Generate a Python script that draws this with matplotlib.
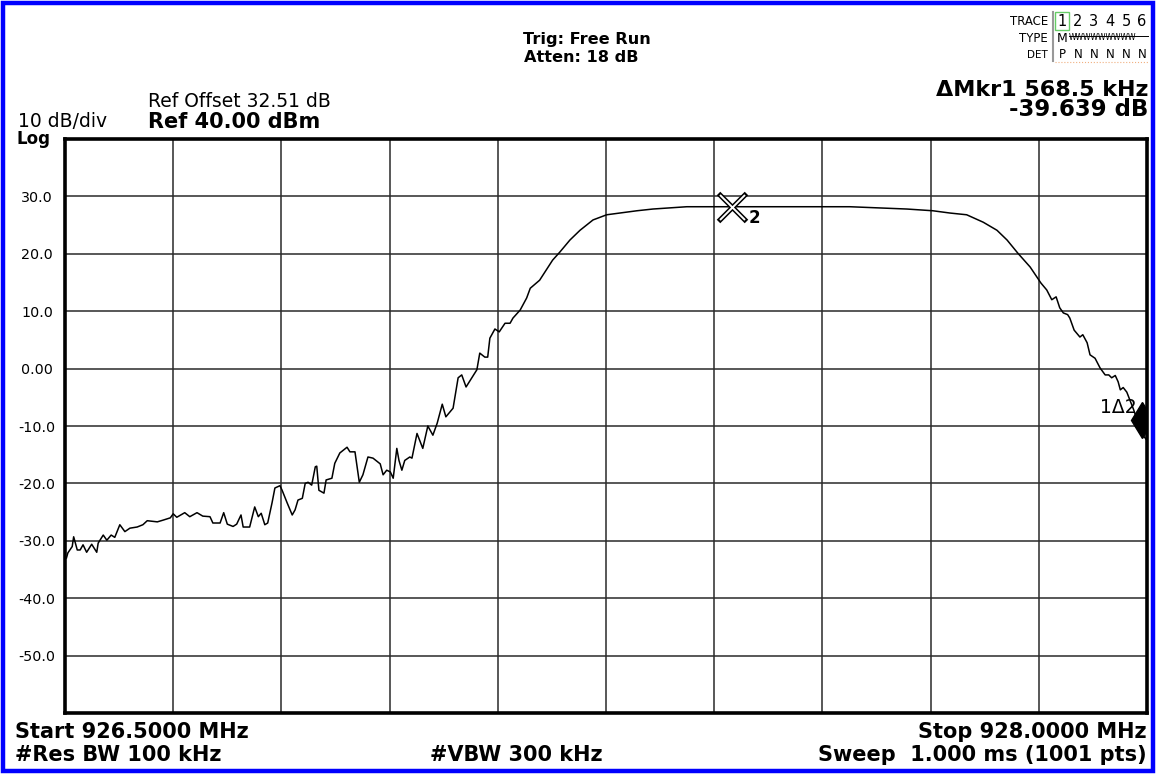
import numpy as np
import matplotlib.pyplot as plt
from matplotlib.patches import Rectangle
from matplotlib.lines import Line2D

# trace (MHz, dBm)
freq_mhz = [
    926.502, 926.504, 926.510, 926.512, 926.517, 926.521, 926.525, 926.530, 926.537, 926.544,
    926.546, 926.553, 926.558, 926.564, 926.569, 926.576, 926.583, 926.590, 926.600, 926.608,
    926.614, 926.628, 926.636, 926.646, 926.650, 926.655, 926.666, 926.673, 926.683, 926.691,
    926.701, 926.705, 926.715, 926.720, 926.725, 926.733, 926.738, 926.744, 926.747, 926.756,
    926.763, 926.768, 926.772, 926.777, 926.781, 926.787, 926.791, 926.798, 926.801, 926.808,
    926.815, 926.819, 926.823, 926.829, 926.833, 926.837, 926.842, 926.847, 926.849, 926.852,
    926.859, 926.862, 926.870, 926.874, 926.881, 926.891, 926.895, 926.902, 926.908, 926.913,
    926.920, 926.927, 926.937, 926.941, 926.946, 926.951, 926.955, 926.960, 926.963, 926.967,
    926.971, 926.978, 926.981, 926.988, 926.996, 927.003, 927.010, 927.016, 927.023, 927.028,
    927.038, 927.045, 927.050, 927.056, 927.064, 927.071, 927.075, 927.082, 927.086, 927.089,
    927.096, 927.102, 927.110, 927.117, 927.121, 927.131, 927.140, 927.145, 927.158, 927.176,
    927.186, 927.200, 927.214, 927.232, 927.251, 927.269, 927.293, 927.315, 927.362, 927.425,
    927.588, 927.626, 927.667, 927.703, 927.727, 927.750, 927.773, 927.792, 927.806, 927.821,
    927.838, 927.853, 927.861, 927.868, 927.874, 927.879, 927.884, 927.890, 927.893, 927.899,
    927.907, 927.911, 927.917, 927.921, 927.928, 927.935, 927.942, 927.947, 927.951, 927.956,
    927.960, 927.963, 927.967, 927.972, 927.981, 927.988, 927.993, 928.000,
]
level_dbm = [
    -33.0, -32.1, -31.0, -29.3, -31.6, -31.6, -30.7, -32.0, -30.6, -32.0,
    -30.4, -29.0, -29.9, -29.0, -29.4, -27.2, -28.4, -27.8, -27.6, -27.2,
    -26.5, -26.7, -26.4, -26.0, -25.3, -25.9, -25.1, -25.8, -25.1, -25.7,
    -25.8, -26.9, -26.9, -25.1, -27.1, -27.5, -27.1, -25.5, -27.6, -27.6,
    -24.1, -25.8, -25.2, -27.2, -26.9, -23.4, -20.8, -20.4, -21.2, -23.4,
    -25.5, -24.6, -22.9, -22.6, -20.0, -19.8, -20.3, -17.1, -17.0, -21.2,
    -21.7, -19.4, -19.1, -16.5, -14.7, -13.7, -14.5, -14.5, -19.8, -18.5,
    -15.4, -15.6, -16.6, -18.5, -17.7, -18.0, -19.1, -13.9, -16.0, -17.7,
    -16.0, -15.4, -15.6, -11.3, -13.9, -10.0, -11.6, -9.5, -6.2, -8.4,
    -6.9, -1.6, -1.1, -3.2, -1.6, -0.2, 2.7, 2.0, 2.0, 5.3,
    6.9, 6.4, 7.9, 7.9, 8.8, 10.2, 12.3, 14.0, 15.4, 18.9,
    20.3, 22.4, 24.1, 25.9, 26.8, 27.1, 27.5, 27.8, 28.2, 28.2,
    28.2, 28.0, 27.8, 27.5, 27.1, 26.8, 25.5, 24.1, 22.4, 20.1,
    17.7, 14.9, 13.7, 12.0, 12.5, 10.6, 9.7, 9.4, 8.8, 6.7,
    5.5, 5.9, 4.5, 2.4, 1.8, 0.1, -1.1, -1.1, -1.6, -1.2,
    -2.3, -3.7, -3.3, -4.1, -7.0, -9.5, -11.4, -12.5,
]

start_mhz, stop_mhz = 926.5, 928.0
ref_level, db_per_div = 40.0, 10.0
ytick_labels = ["30.0", "20.0", "10.0", "0.00", "-10.0", "-20.0", "-30.0", "-40.0", "-50.0"]

mkr2_freq, mkr2_level = 927.425, 28.2
mkr1_delta_mhz = 0.5685
mkr1_level = -9.0

trace_nums = ["1", "2", "3", "4", "5", "6"]
trace_det = ["P", "N", "N", "N", "N", "N"]

W, H = 1156, 774
FONT = "DejaVu Sans"
plt.rcParams["font.family"] = FONT


def fx(x):
    return x / W


def fy(y):
    return 1 - y / H


fig = plt.figure(figsize=(W / 100, H / 100), dpi=100)
fig.patch.set_facecolor("white")

# blue screen border
fig.patches.append(Rectangle((fx(3), fy(771)), fx(1150), 768 / H, transform=fig.transFigure,
                             fill=False, edgecolor="#0000ff", linewidth=3.2))

ax = fig.add_axes([fx(65), fy(713), fx(1082), 574 / H])
ax.plot(freq_mhz, level_dbm, color="black", linewidth=1.1)

ax.set_xlim(start_mhz, stop_mhz)
ax.set_ylim(ref_level - 10 * db_per_div, ref_level)
ax.set_xticks(np.linspace(start_mhz, stop_mhz, 11))
ax.set_xticklabels([])
ax.set_yticks(np.arange(-60, 41, 10))
ax.set_yticklabels([""] + ytick_labels[::-1] + [""], fontsize=10.3)
for lab in ax.get_yticklabels():
    lab.set_horizontalalignment("center")
ax.tick_params(length=0, pad=20)
ax.grid(True, color="#2a2a2a", linewidth=1.1)
for s in ax.spines.values():
    s.set_linewidth(2.6)

# marker 2: outlined X
ax.plot([mkr2_freq], [mkr2_level], marker="x", markersize=20, mew=3.6, color="black", zorder=5)
ax.plot([mkr2_freq], [mkr2_level], marker="x", markersize=18, mew=1.4, color="white", zorder=6)
ax.annotate("2", (mkr2_freq, mkr2_level), xytext=(12, -8), textcoords="offset points",
            fontsize=12, fontweight="bold", va="center", ha="left")

# marker 1 (delta) diamond at the right edge
mkr1_freq = mkr2_freq + mkr1_delta_mhz
ax.plot([mkr1_freq], [mkr1_level], marker="d", markersize=18.5, color="black", zorder=6)
ax.annotate("1\u03942", (mkr1_freq, mkr1_level), xytext=(-4, 5), textcoords="offset points",
            fontsize=13.5, va="baseline", ha="right")

# header texts
fig.text(fx(148), fy(107), "Ref Offset 32.51 dB", fontsize=13.5, va="baseline")
fig.text(fx(148), fy(128), "Ref 40.00 dBm", fontsize=15, fontweight="bold", va="baseline")
fig.text(fx(18), fy(127), "10 dB/div", fontsize=13.5, va="baseline")
fig.text(fx(17), fy(144), "Log", fontsize=12, fontweight="bold", va="baseline")
fig.text(fx(587), fy(44), "Trig: Free Run", fontsize=11.6, fontweight="bold",
         va="baseline", ha="center")
fig.text(fx(581), fy(62), "Atten: 18 dB", fontsize=11.6, fontweight="bold",
         va="baseline", ha="center")
fig.text(fx(1148), fy(96), "\u0394Mkr1 568.5 kHz", fontsize=16, fontweight="bold",
         va="baseline", ha="right")
fig.text(fx(1148), fy(116), "-39.639 dB", fontsize=16.5, fontweight="bold",
         va="baseline", ha="right")

# trace table
fig.text(fx(1048), fy(25), "TRACE", fontsize=8.5, va="baseline", ha="right")
fig.text(fx(1048), fy(42), "TYPE", fontsize=8.5, va="baseline", ha="right")
fig.text(fx(1048), fy(58), "DET", fontsize=7.5, va="baseline", ha="right")
for i, (num, det) in enumerate(zip(trace_nums, trace_det)):
    fig.text(fx(1062 + 16 * i), fy(26), num, fontsize=10.5, va="baseline", ha="center")
    fig.text(fx(1062 + 16 * i), fy(58), det, fontsize=8.5, va="baseline", ha="center")
fig.text(fx(1062), fy(42), "M", fontsize=9, va="baseline", ha="center")
fig.text(fx(1069), fy(40), "WWWWWWWWW", fontsize=5.5, va="baseline")
fig.lines.append(Line2D([fx(1069), fx(1148)], [fy(36), fy(36)], transform=fig.transFigure,
                        color="black", linewidth=0.7))
fig.lines.append(Line2D([fx(1053), fx(1053)], [fy(12), fy(61)], transform=fig.transFigure,
                        color="#999999", linewidth=1.5))
fig.lines.append(Line2D([fx(1055), fx(1148)], [fy(62), fy(62)], transform=fig.transFigure,
                        color="#f0b080", linewidth=0.8, linestyle=":"))
fig.patches.append(Rectangle((fx(1055), fy(30)), fx(14), 18 / H, transform=fig.transFigure,
                             fill=False, edgecolor="#66cc66", linewidth=1.0))

# footer texts
fig.text(fx(15), fy(738), "Start 926.5000 MHz", fontsize=15, fontweight="bold", va="baseline")
fig.text(fx(15), fy(761), "#Res BW 100 kHz", fontsize=15, fontweight="bold", va="baseline")
fig.text(fx(430), fy(761), "#VBW 300 kHz", fontsize=15, fontweight="bold", va="baseline")
fig.text(fx(1147), fy(738), "Stop 928.0000 MHz", fontsize=15, fontweight="bold",
         va="baseline", ha="right")
fig.text(fx(1147), fy(761), "Sweep  1.000 ms (1001 pts)", fontsize=15, fontweight="bold",
         va="baseline", ha="right")

fig.savefig("out.png", dpi=100)
